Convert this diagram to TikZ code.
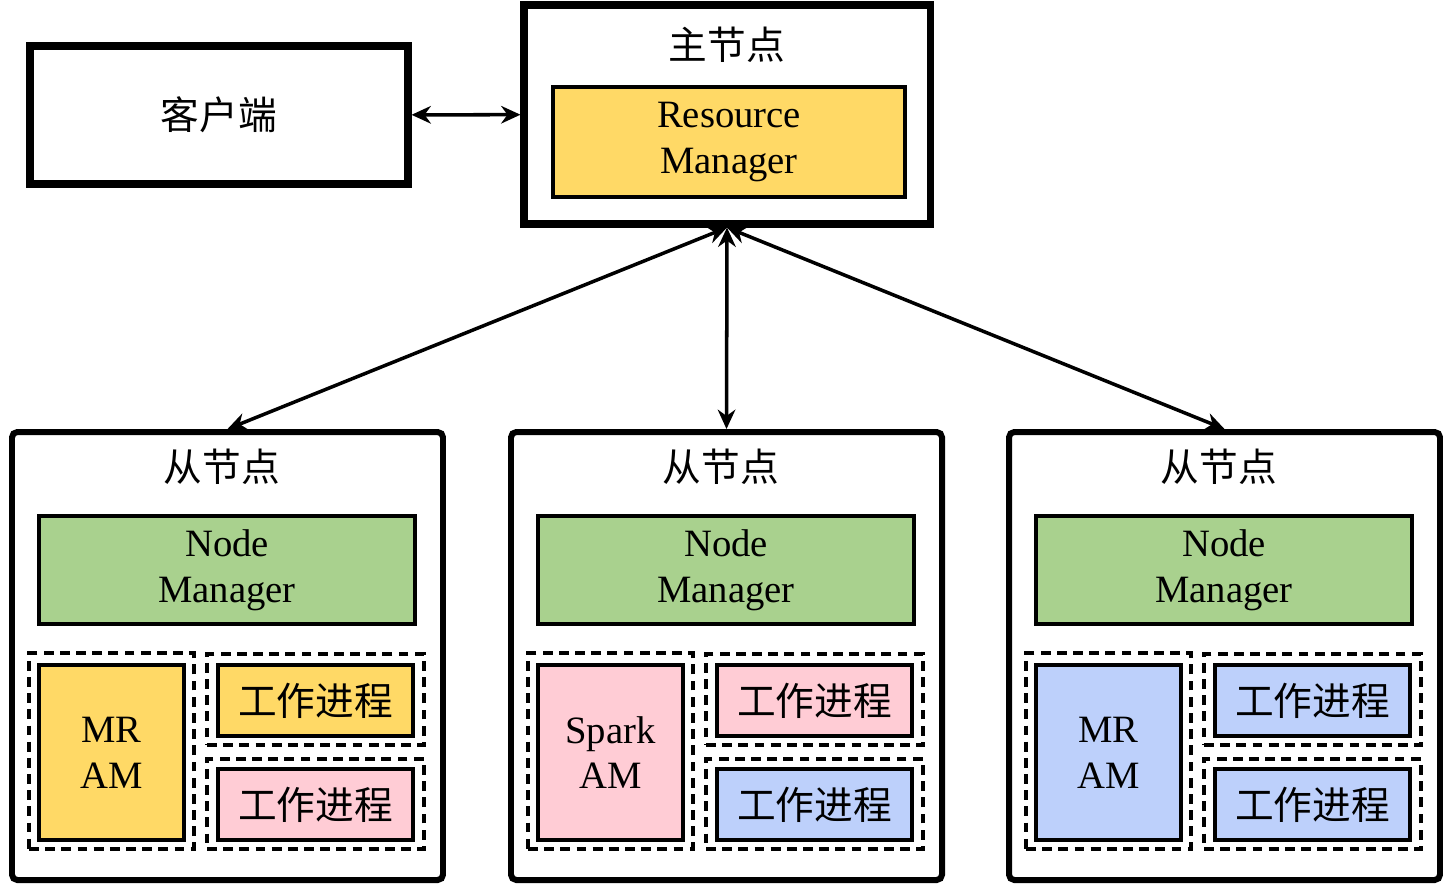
\documentclass[tikz,border=0pt]{standalone}
\usepackage{fontspec}
\setmainfont{Liberation Serif}
\newfontfamily\cjk{Noto Sans CJK SC}
\usetikzlibrary{arrows.meta,positioning}

\definecolor{rmyellow}{HTML}{FFD966}
\definecolor{nmgreen}{HTML}{A9D18E}
\definecolor{sparkpink}{HTML}{FFCCD5}
\definecolor{mrblue}{HTML}{BDD0FB}

\tikzset{
    sz/.style 2 args={minimum width=#1*0.01cm, minimum height=#2*0.01cm},
    hostbox/.style={draw, line width=2pt, inner sep=0pt},
    slavebox/.style={draw, line width=1.7pt, rounded corners=1.5pt, inner sep=0pt},
    fillbox/.style={draw, line width=1.2pt, align=center, inner sep=0pt},
    dashbox/.style={draw, line width=0.9pt, dash pattern=on 2.8pt off 1.8pt, inner sep=0pt},
    link/.style={{Stealth[length=5.5pt,width=5pt]}-{Stealth[length=5.5pt,width=5pt]}, line width=1pt}
}

\begin{document}
\begin{tikzpicture}[x=0.01cm, y=-0.01cm, font=\fontsize{11}{13}\selectfont]
    \useasboundingbox (0,0) rectangle (1443,884);

    % Klien dan node master
    \node[hostbox, sz={378}{138}] (client) at (219,115) {\cjk 客户端};
    \node[hostbox, sz={406}{219}] (master) at (727,114.5) {};
    \node (mtitle) at (727,45) {\cjk 主节点};
    \node[fillbox, fill=rmyellow, sz={352}{110}] (rm) at (729,142) {Resource\\Manager};
    \draw[link] (client) -- (master);

    % 3 node slave
    \foreach \n/\x/\amname/\amcol/\wacol/\wbcol in {1/12/MR/rmyellow/rmyellow/sparkpink,
                                                   2/511/Spark/sparkpink/sparkpink/mrblue,
                                                   3/1009/MR/mrblue/mrblue/mrblue} {
        \node[slavebox, sz={431}{448}] (slave\n) at ({\x+215.5},656) {};
        \node (stitle\n) at ({\x+210},467) {\cjk 从节点};
        \node[fillbox, fill=nmgreen, sz={376}{108}] (nm\n) at ({\x+215},570) {Node\\Manager};
        % Container (garis putus-putus)
        \node[dashbox, sz={165}{196}] (dam\n) at ({\x+99.5},751) {};
        \node[dashbox, sz={217}{91}] (dwa\n) at ({\x+303.5},699.5) {};
        \node[dashbox, sz={217}{90}] (dwb\n) at ({\x+303.5},804) {};
        \node[fillbox, fill=\amcol, sz={145}{175}] (am\n) at ({\x+99.5},752.5) {\amname\\AM};
        \node[fillbox, fill=\wacol, sz={195}{71}] (wa\n) at ({\x+303.5},700.5) {\cjk 工作进程};
        \node[fillbox, fill=\wbcol, sz={195}{71}] (wb\n) at ({\x+303.5},804.5) {\cjk 工作进程};
        \draw[link] (master.south) -- (slave\n.north);
    }

\end{tikzpicture}
\end{document}
